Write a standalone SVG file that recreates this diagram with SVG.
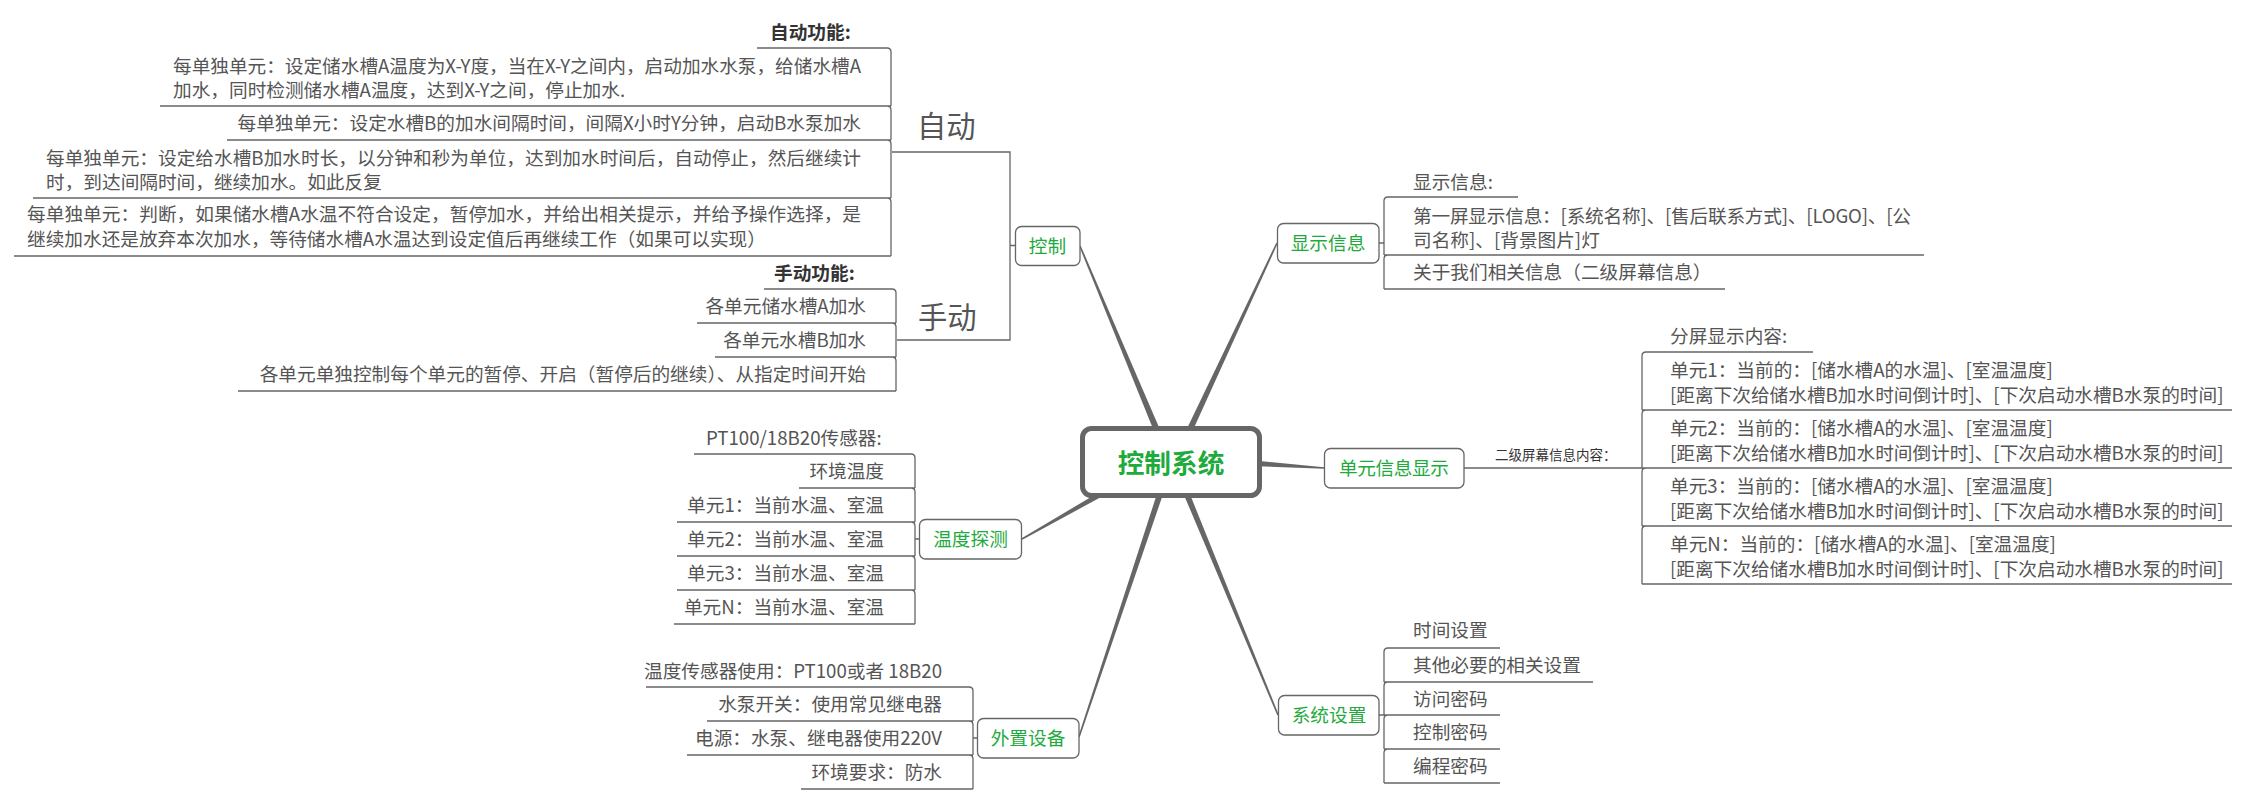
<svg xmlns="http://www.w3.org/2000/svg" width="2248" height="805" viewBox="0 0 2248 805">
<style>
text{font-family:"Noto Sans CJK SC","Microsoft YaHei",sans-serif;}
.t{font-size:18.67px;fill:#555;}
.lbl{font-size:18.67px;fill:#333;font-weight:bold;}
.big{font-size:29.3px;fill:#555;}
.nt{font-size:18.67px;fill:#1eaa3c;text-anchor:middle;}
.ct{font-size:26.67px;fill:#1eaa3c;font-weight:bold;text-anchor:middle;}
.sm{font-size:13.5px;fill:#333;}
.e{text-anchor:end;}
.box{fill:#fff;stroke:#666;stroke-width:1.3;}
.ln{fill:none;stroke:#666;stroke-width:1.3;}
.cn{fill:#666;stroke:none;}
</style>
<rect width="2248" height="805" fill="#fff"/>
<g id="connectors">
<polygon class="cn" points="1163.95,438.77 1080.74,245.69 1079.26,246.31 1158.05,441.23"/>
<polygon class="cn" points="1187.9,441.35 1277.72,243.34 1276.28,242.66 1182.1,438.65"/>
<polygon class="cn" points="1249.8,466 1323.95,468.8 1324.05,467.2 1250.2,460"/>
<polygon class="cn" points="1180.23,486.15 1277.26,715.31 1278.74,714.69 1185.77,483.85"/>
<polygon class="cn" points="1160.15,484.05 1078.24,736.75 1079.76,737.25 1165.85,485.95"/>
<polygon class="cn" points="1115.52,482.39 1021.6,538.3 1022.4,539.7 1118.48,487.61"/>
<path class="ln" d="M892,152 H1010 V340 H897 M1010,245.5 H1015"/>
<path class="ln" d="M757,48 H887 Q891,48 891,52 V106 M160,106 H891 M887,106 Q891,106 891,110 V140 M227,140 H891 M887,140 Q891,140 891,144 V198 M33,198 H891 M887,198 Q891,198 891,202 V256 M14,256 H891"/>
<path class="ln" d="M764,289 H892 Q896,289 896,293 V323 M697,323 H896 M892,323 Q896,323 896,327 V357 M715,357 H896 M892,357 Q896,357 896,361 V391 M238,391 H896"/>
<path class="ln" d="M694,454 H911 Q915,454 915,458 V488 M799,488 H915 M911,488 Q915,488 915,492 V522 M677,522 H915 M911,522 Q915,522 915,526 V556 M677,556 H915 M911,556 Q915,556 915,560 V590 M677,590 H915 M911,590 Q915,590 915,594 V624 M674,624 H915 M915,539 H919"/>
<path class="ln" d="M646,687 H969 Q973,687 973,691 V721 M707,721 H973 M969,721 Q973,721 973,725 V755 M687,755 H973 M969,755 Q973,755 973,759 V789 M801,789 H973 M973,738 H977"/>
<path class="ln" d="M1518,197 H1388 Q1384,197 1384,201 V255 M1384,255 H1924 M1388,255 Q1384,255 1384,259 V289 M1384,289 H1725 M1379,243 H1384"/>
<path class="ln" d="M1813,352 H1646 Q1642,352 1642,356 V410 M1642,410 H2232 M1646,410 Q1642,410 1642,414 V468 M1642,468 H2232 M1646,468 Q1642,468 1642,472 V526 M1642,526 H2232 M1646,526 Q1642,526 1642,530 V584 M1642,584 H2232 M1464,468 H1642"/>
<path class="ln" d="M1500,648 H1388 Q1384,648 1384,652 V682 M1384,682 H1593 M1388,682 Q1384,682 1384,686 V715 M1384,715 H1500 M1388,715 Q1384,715 1384,719 V749 M1384,749 H1500 M1388,749 Q1384,749 1384,753 V783 M1384,783 H1500 M1379,715 H1384"/>
</g>
<g id="n-center">
<rect x="1082.5" y="428.5" width="177" height="67" rx="9" fill="#fff" stroke="#666" stroke-width="5"/>
<text class="ct" x="1171" y="473">控制系统</text>
</g>
<g id="n-control">
<rect class="box" x="1015.5" y="226.5" width="64.5" height="39" rx="6"/>
<text class="nt" x="1047.5" y="252.5">控制</text>
</g>
<g id="n-auto">
<text class="big" x="917" y="137">自动</text>
<text class="lbl" x="770" y="39">自动功能:</text>
<text class="t" x="173" y="72.5" textLength="688" lengthAdjust="spacing">每单独单元：设定储水槽A温度为X-Y度，当在X-Y之间内，启动加水水泵，给储水槽A</text>
<text class="t" x="173" y="96.5">加水，同时检测储水槽A温度，达到X-Y之间，停止加水.</text>
<text class="t e" x="861" y="130">每单独单元：设定水槽B的加水间隔时间，间隔X小时Y分钟，启动B水泵加水</text>
<text class="t" x="46" y="164.5" textLength="815" lengthAdjust="spacing">每单独单元：设定给水槽B加水时长，以分钟和秒为单位，达到加水时间后，自动停止，然后继续计</text>
<text class="t" x="46" y="188.5">时，到达间隔时间，继续加水。如此反复</text>
<text class="t" x="27" y="221" textLength="834" lengthAdjust="spacing">每单独单元：判断，如果储水槽A水温不符合设定，暂停加水，并给出相关提示，并给予操作选择，是</text>
<text class="t" x="27" y="246">继续加水还是放弃本次加水，等待储水槽A水温达到设定值后再继续工作（如果可以实现）</text>
</g>
<g id="n-manual">
<text class="big" x="918" y="328">手动</text>
<text class="lbl" x="774" y="280">手动功能:</text>
<text class="t e" x="866" y="313">各单元储水槽A加水</text>
<text class="t e" x="866" y="347">各单元水槽B加水</text>
<text class="t e" x="866" y="381">各单元单独控制每个单元的暂停、开启（暂停后的继续）、从指定时间开始</text>
</g>
<g id="n-temp">
<rect class="box" x="919.5" y="519.5" width="102" height="39.5" rx="6"/>
<text class="nt" x="970.5" y="546">温度探测</text>
<text class="t" x="706" y="445">PT100/18B20传感器:</text>
<text class="t e" x="884" y="478">环境温度</text>
<text class="t e" x="884" y="512">单元1：当前水温、室温</text>
<text class="t e" x="884" y="546">单元2：当前水温、室温</text>
<text class="t e" x="884" y="580">单元3：当前水温、室温</text>
<text class="t e" x="884" y="614">单元N：当前水温、室温</text>
</g>
<g id="n-ext">
<rect class="box" x="977.5" y="718.5" width="101.5" height="39.5" rx="6"/>
<text class="nt" x="1028" y="745">外置设备</text>
<text class="t e" x="942" y="678">温度传感器使用：PT100或者 18B20</text>
<text class="t e" x="942" y="711">水泵开关：使用常见继电器</text>
<text class="t e" x="942" y="745">电源：水泵、继电器使用220V</text>
<text class="t e" x="942" y="779">环境要求：防水</text>
</g>
<g id="n-display">
<rect class="box" x="1277.5" y="223.5" width="101.5" height="39.5" rx="6"/>
<text class="nt" x="1328" y="250">显示信息</text>
<text class="t" x="1413" y="189">显示信息:</text>
<text class="t" x="1413" y="223" textLength="498" lengthAdjust="spacing">第一屏显示信息：[系统名称]、[售后联系方式]、[LOGO]、[公</text>
<text class="t" x="1413" y="247">司名称]、[背景图片]灯</text>
<text class="t" x="1413" y="279">关于我们相关信息（二级屏幕信息）</text>
</g>
<g id="n-unit">
<rect class="box" x="1324.5" y="448.5" width="139.5" height="39.5" rx="6"/>
<text class="nt" x="1394" y="475" textLength="110" lengthAdjust="spacing">单元信息显示</text>
<text class="sm" x="1495" y="460">二级屏幕信息内容：</text>
<text class="t" x="1670" y="343">分屏显示内容:</text>
<text class="t" x="1670" y="377">单元1：当前的：[储水槽A的水温]、[室温温度]</text>
<text class="t" x="1670" y="401.5">[距离下次给储水槽B加水时间倒计时]、[下次启动水槽B水泵的时间]</text>
<text class="t" x="1670" y="435">单元2：当前的：[储水槽A的水温]、[室温温度]</text>
<text class="t" x="1670" y="459.5">[距离下次给储水槽B加水时间倒计时]、[下次启动水槽B水泵的时间]</text>
<text class="t" x="1670" y="493">单元3：当前的：[储水槽A的水温]、[室温温度]</text>
<text class="t" x="1670" y="517.5">[距离下次给储水槽B加水时间倒计时]、[下次启动水槽B水泵的时间]</text>
<text class="t" x="1670" y="551">单元N：当前的：[储水槽A的水温]、[室温温度]</text>
<text class="t" x="1670" y="575.5">[距离下次给储水槽B加水时间倒计时]、[下次启动水槽B水泵的时间]</text>
</g>
<g id="n-sys">
<rect class="box" x="1278.5" y="695.5" width="100.5" height="39.5" rx="6"/>
<text class="nt" x="1329" y="722">系统设置</text>
<text class="t" x="1413" y="637">时间设置</text>
<text class="t" x="1413" y="672">其他必要的相关设置</text>
<text class="t" x="1413" y="705.5">访问密码</text>
<text class="t" x="1413" y="739">控制密码</text>
<text class="t" x="1413" y="773">编程密码</text>
</g>
</svg>
